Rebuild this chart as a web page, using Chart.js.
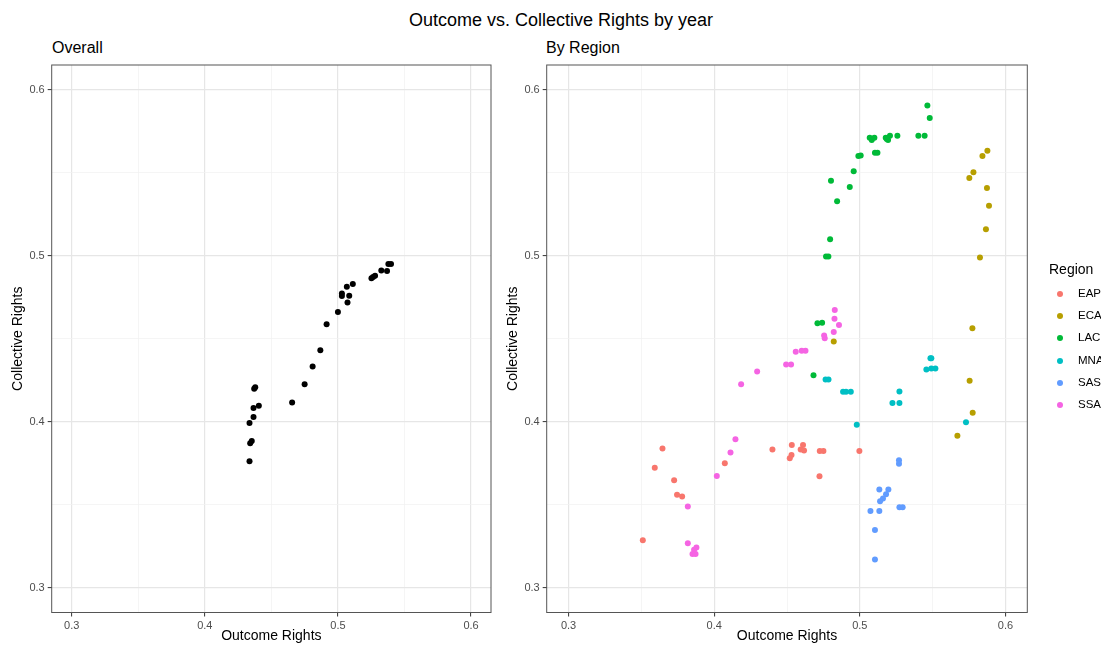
<!DOCTYPE html>
<html>
<head>
<meta charset="utf-8">
<script src="https://cdn.jsdelivr.net/npm/chart.js@4.4.1/dist/chart.umd.min.js"></script>
<style>
  html, body { margin: 0; padding: 0; background: #fff; overflow: hidden; }
  body { width: 1101px; height: 646px; position: relative; font-family: "Liberation Sans", Arial, sans-serif; }
  canvas { position: absolute; top: 0; }
  .txt { position: absolute; white-space: nowrap; color: #000; line-height: 1; }
  .dot { position: absolute; width: 6px; height: 6px; border-radius: 50%; }
</style>
</head>
<body>
<div class="txt" id="mainTitle" style="left:561px; top:11px; font-size:18px; transform:translateX(-50%);">Outcome vs. Collective Rights by year</div>
<div class="txt" style="left:52px; top:40px; font-size:16px;">Overall</div>
<div class="txt" style="left:546px; top:40px; font-size:16px;">By Region</div>
<canvas id="overall" width="495" height="646" style="left:0px;"></canvas>
<canvas id="byRegion" width="606" height="646" style="left:495px;"></canvas>
<div id="legend"></div>

<script>
// tick positions shared by both panels
const tickValues = [0.3, 0.35, 0.4, 0.45, 0.5, 0.55, 0.6];

// left panel: one point per year
const overallX = [0.4336, 0.4341, 0.4353, 0.4336, 0.4366, 0.4366, 0.4406, 0.4371, 0.4379, 0.4656,
                  0.4750, 0.4810, 0.4868, 0.4915, 0.5000, 0.5030, 0.5030, 0.5072, 0.5085, 0.5067,
                  0.5112, 0.5252, 0.5264, 0.5279, 0.5326, 0.5369, 0.5379, 0.5399];
const overallY = [0.3761, 0.3870, 0.3883, 0.3992, 0.4028, 0.4082, 0.4096, 0.4198, 0.4208, 0.4116,
                  0.4226, 0.4333, 0.4431, 0.4587, 0.4661, 0.4773, 0.4758, 0.4719, 0.4759, 0.4814,
                  0.4830, 0.4864, 0.4872, 0.4880, 0.4912, 0.4908, 0.4950, 0.4950];

// right panel: by region
const regions = ['EAP', 'ECA', 'LAC', 'MNA', 'SAS', 'SSA'];
const regionColors = ['#F8766D', '#B79F00', '#00BA38', '#00BFC4', '#619CFF', '#F564E3'];

const eapX = [0.3645, 0.3592, 0.3725, 0.3745, 0.3780, 0.3510, 0.4073, 0.4400, 0.4533, 0.4531,
              0.4519, 0.4610, 0.4594, 0.4617, 0.4725, 0.4750, 0.4723, 0.4997];
const eapY = [0.3838, 0.3723, 0.3647, 0.3559, 0.3549, 0.3286, 0.3749, 0.3833, 0.3859, 0.3799,
              0.3779, 0.3859, 0.3833, 0.3827, 0.3823, 0.3823, 0.3671, 0.3823];

const ecaX = [0.5876, 0.5842, 0.5780, 0.5752, 0.5873, 0.5887, 0.5866, 0.5825, 0.5773, 0.5754,
              0.5775, 0.5670, 0.4821];
const ecaY = [0.5633, 0.5601, 0.5503, 0.5469, 0.5409, 0.5301, 0.5160, 0.4990, 0.4563, 0.4247,
              0.4054, 0.3916, 0.4483];

const lacX = [0.5464, 0.5480, 0.5068, 0.5082, 0.5100, 0.5178, 0.5194, 0.5207, 0.5185, 0.5258,
              0.5402, 0.5445, 0.5104, 0.5121, 0.4990, 0.5006, 0.4958, 0.4802, 0.4931, 0.4844,
              0.4796, 0.4768, 0.4784, 0.4709, 0.4741, 0.4682];
const lacY = [0.5906, 0.5830, 0.5711, 0.5698, 0.5711, 0.5711, 0.5698, 0.5723, 0.5704, 0.5723,
              0.5723, 0.5723, 0.5621, 0.5621, 0.5601, 0.5605, 0.5509, 0.5453, 0.5415, 0.5329,
              0.5100, 0.4996, 0.4996, 0.4593, 0.4597, 0.4280];

const mnaX = [0.4765, 0.4785, 0.4885, 0.4905, 0.4938, 0.4979, 0.5272, 0.5224, 0.5272, 0.5485,
              0.5491, 0.5457, 0.5491, 0.5519, 0.5729];
const mnaY = [0.4254, 0.4254, 0.4180, 0.4180, 0.4180, 0.3982, 0.4182, 0.4112, 0.4112, 0.4382,
              0.4382, 0.4314, 0.4320, 0.4320, 0.3996];

const sasX = [0.5269, 0.5269, 0.5134, 0.5196, 0.5180, 0.5159, 0.5139, 0.5272, 0.5294, 0.5073,
              0.5134, 0.5104, 0.5104];
const sasY = [0.3767, 0.3747, 0.3591, 0.3591, 0.3563, 0.3537, 0.3521, 0.3485, 0.3485, 0.3462,
              0.3462, 0.3348, 0.3170];

const ssaX = [0.4828, 0.4826, 0.4857, 0.4821, 0.4755, 0.4759, 0.4560, 0.4601, 0.4627, 0.4494,
              0.4528, 0.4295, 0.4185, 0.4146, 0.4112, 0.4018, 0.3819, 0.3819, 0.3878, 0.3862,
              0.3851, 0.3872];
const ssaY = [0.4673, 0.4621, 0.4583, 0.4541, 0.4519, 0.4503, 0.4421, 0.4427, 0.4427, 0.4345,
              0.4345, 0.4302, 0.4226, 0.3895, 0.3815, 0.3673, 0.3489, 0.3268, 0.3242, 0.3228,
              0.3202, 0.3202];

const regionXs = [eapX, ecaX, lacX, mnaX, sasX, ssaX];
const regionYs = [eapY, ecaY, lacY, mnaY, sasY, ssaY];

const FONT = '"Liberation Sans", Arial, sans-serif';

function toPoints(xs, ys) {
  return xs.map((x, i) => ({ x: x, y: ys[i] }));
}

function isMajor(v) {
  return Math.abs(Math.round(v * 10) - v * 10) < 1e-6;
}

// panel border like theme_bw
const panelBorder = {
  id: 'panelBorder',
  afterDraw(chart) {
    const a = chart.chartArea;
    const ctx = chart.ctx;
    ctx.save();
    ctx.strokeStyle = '#555555';
    ctx.lineWidth = 1;
    ctx.strokeRect(a.left, a.top, a.right - a.left, a.bottom - a.top);
    ctx.restore();
  }
};

function axis(title, horizontal) {
  return {
    type: 'linear',
    min: 0.285,
    max: 0.615,
    afterBuildTicks: (scale) => { scale.ticks = tickValues.map(v => ({ value: v })); },
    afterFit: (scale) => {
      if (horizontal) scale.height = 33.5;
      else scale.width = 51.7;
    },
    border: { display: false },
    grid: {
      color: (c) => isMajor(c.tick.value) ? '#E6E6E6' : '#F0F0F0',
      lineWidth: (c) => isMajor(c.tick.value) ? 1.2 : 0.7,
      tickColor: (c) => isMajor(c.tick.value) ? '#333333' : 'rgba(0,0,0,0)',
      tickLength: 4,
      tickWidth: 1
    },
    ticks: {
      autoSkip: false,
      maxRotation: 0,
      padding: 3,
      color: '#4D4D4D',
      font: { family: FONT, size: 11 },
      callback: (v) => isMajor(v) ? v.toFixed(1) : ''
    },
    title: {
      display: true,
      text: title,
      color: '#000',
      font: { family: FONT, size: 14 },
      padding: horizontal ? { top: 0, bottom: 1 } : { top: 10, bottom: 0 }
    }
  };
}

function makeChart(id, datasets, rightPad) {
  return new Chart(document.getElementById(id), {
    type: 'scatter',
    data: { datasets: datasets },
    options: {
      responsive: false,
      animation: false,
      devicePixelRatio: 1,
      layout: { padding: { top: 65, left: 0, right: rightPad, bottom: 0 } },
      plugins: { legend: { display: false }, tooltip: { enabled: false } },
      scales: {
        x: axis('Outcome Rights', true),
        y: axis('Collective Rights', false)
      }
    },
    plugins: [panelBorder]
  });
}

makeChart('overall', [{
  label: 'Overall',
  data: toPoints(overallX, overallY),
  backgroundColor: '#000000',
  borderWidth: 0,
  pointRadius: 3
}], 2.7);

makeChart('byRegion', regions.map((r, i) => ({
  label: r,
  data: toPoints(regionXs[i], regionYs[i]),
  backgroundColor: regionColors[i],
  borderWidth: 0,
  pointRadius: 3
})), 73.7);

// legend (ggplot style, on the right of the region panel)
const legend = document.getElementById('legend');
let html = '<div class="txt" style="left:1049px; top:262px; font-size:14px;">Region</div>';
regions.forEach((r, i) => {
  const cy = 293.7 + i * 22.3;
  html += '<div class="dot" style="left:' + (1059.7 - 3) + 'px; top:' + (cy - 3) + 'px; background:' + regionColors[i] + ';"></div>';
  html += '<div class="txt" style="left:1078px; top:' + (cy - 6) + 'px; font-size:11.5px;">' + r + '</div>';
});
legend.innerHTML = html;
</script>
</body>
</html>
